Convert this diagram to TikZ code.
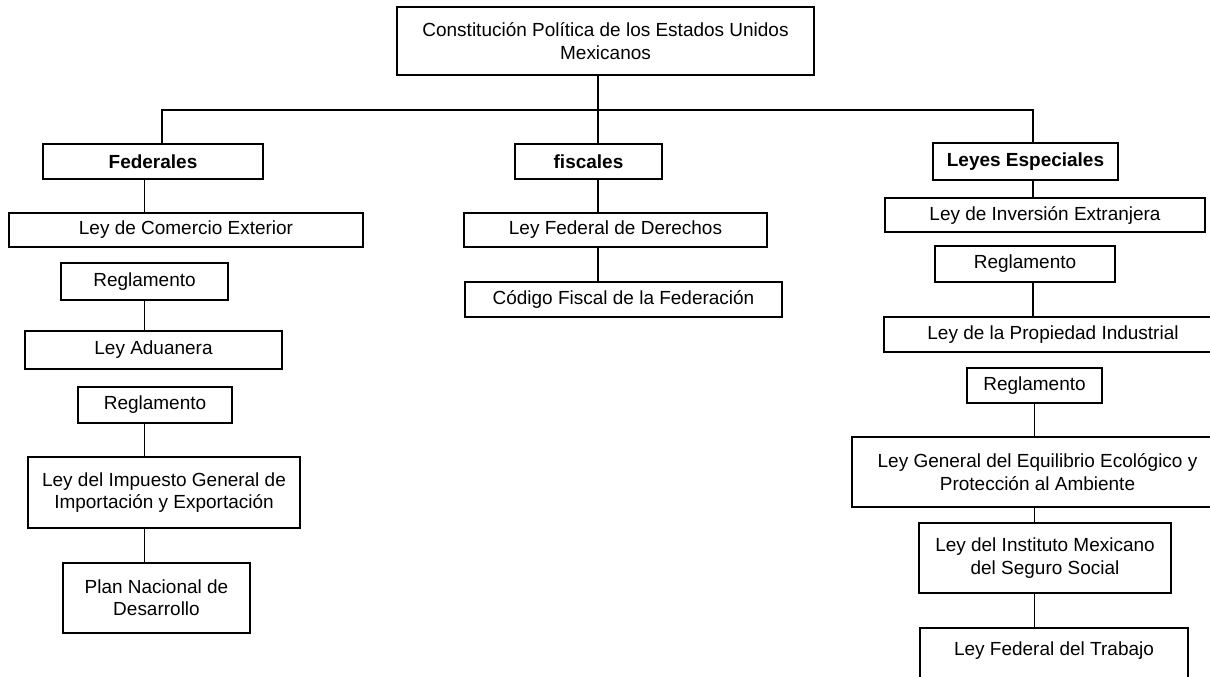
\documentclass[tikz,border=0pt]{standalone}
\usepackage{fontspec}
\setmainfont{Liberation Sans}
\usepackage{tikz}

\begin{document}
\begin{tikzpicture}[
    x=0.025cm, y=-0.025cm,
    box/.style={draw, line width=1.3pt, inner sep=0pt, align=center, font=\fontsize{13.5}{15.8}\selectfont},
    head/.style={box, font=\fontsize{13.5}{15.8}\selectfont\bfseries},
    link/.style={line width=1.1pt},
    ]
  \useasboundingbox (0,0) rectangle (1210,677);

  \node[box, minimum width=10.43cm, minimum height=1.7cm] (root) at (605.5,41) {Constitución Política de los Estados Unidos\\Mexicanos};

  \node[head, minimum width=5.5cm, minimum height=0.875cm] (fed) at (153,161.5) {Federales};
  \node[head, minimum width=3.68cm, minimum height=0.875cm] (fis) at (588.5,161.5) {fiscales};
  \node[head, minimum width=4.63cm, minimum height=0.92cm] (esp) at (1025.5,161.5) {Leyes Especiales};

  \coordinate (busL) at (162,110);
  \coordinate (busM) at (598,110);
  \coordinate (busR) at (1033,110);

  % columna federales
  \node[box, minimum width=8.85cm, minimum height=0.85cm] (lce) at (186,230) {Ley de Comercio Exterior};
  \node[box, minimum width=4.18cm, minimum height=0.92cm] (reg1) at (144.5,281.5) {Reglamento};
  \node[box, minimum width=6.43cm, minimum height=0.95cm] (adu) at (153.5,350) {Ley Aduanera};
  \node[box, minimum width=3.85cm, minimum height=0.9cm] (reg2) at (155,405) {Reglamento};
  \node[box, minimum width=6.8cm, minimum height=1.78cm] (imp) at (164,492.5) {Ley del Impuesto General de\\Importación y Exportación};
  \node[box, minimum width=4.68cm, minimum height=1.75cm] (plan) at (156.5,598) {Plan Nacional de\\Desarrollo};

  % columna fiscales
  \node[box, minimum width=7.58cm, minimum height=0.85cm] (lfd) at (615.5,230) {Ley Federal de Derechos};
  \node[box, minimum width=7.93cm, minimum height=0.875cm] (cff) at (623.5,299.5) {Código Fiscal de la Federación};

  % columna leyes especiales
  \node[box, minimum width=8.0cm, minimum height=0.85cm] (lie) at (1045,215) {Ley de Inversión Extranjera};
  \node[box, minimum width=4.5cm, minimum height=0.9cm] (reg3) at (1025,264) {Reglamento};
  \node[box, minimum width=8.45cm, minimum height=0.875cm] (lpi) at (1053,334.5) {Ley de la Propiedad Industrial};
  \node[box, minimum width=3.38cm, minimum height=0.875cm] (reg4) at (1034.5,385.5) {Reglamento};
  \node[box, minimum width=9.28cm, minimum height=1.75cm] (eq) at (1037.5,472) {Ley General del Equilibrio Ecológico y\\Protección al Ambiente};
  \node[box, minimum width=6.3cm, minimum height=1.75cm] (imss) at (1045,558) {Ley del Instituto Mexicano\\del Seguro Social};
  \node[box, minimum width=6.7cm, text height=0.69cm, text depth=1.06cm, anchor=north] (lft) at (1054,627) {Ley Federal del Trabajo};

  \draw[link] (root.south -| busM) -- (fis.north -| busM);
  \draw[link] (fed.north -| busL) -- (busL) -- (busR) -- (esp.north -| busR);

  \draw[link] (fed.south -| reg1) -- (lce.north -| reg1);
  \draw[link] (reg1.south) -- (reg1 |- adu.north);
  \draw[link] (reg1 |- reg2.south) -- (reg1 |- imp.north);
  \draw[link] (reg1 |- imp.south) -- (reg1 |- plan.north);

  \draw[link] (busM |- fis.south) -- (busM |- lfd.north);
  \draw[link] (busM |- lfd.south) -- (busM |- cff.north);

  \draw[link] (busR |- esp.south) -- (busR |- lie.north);
  \draw[link] (busR |- reg3.south) -- (busR |- lpi.north);
  \draw[link] (reg4.south) -- (reg4 |- eq.north);
  \draw[link] (reg4 |- eq.south) -- (reg4 |- imss.north);
  \draw[link] (reg4 |- imss.south) -- (reg4 |- lft.north);
\end{tikzpicture}
\end{document}
